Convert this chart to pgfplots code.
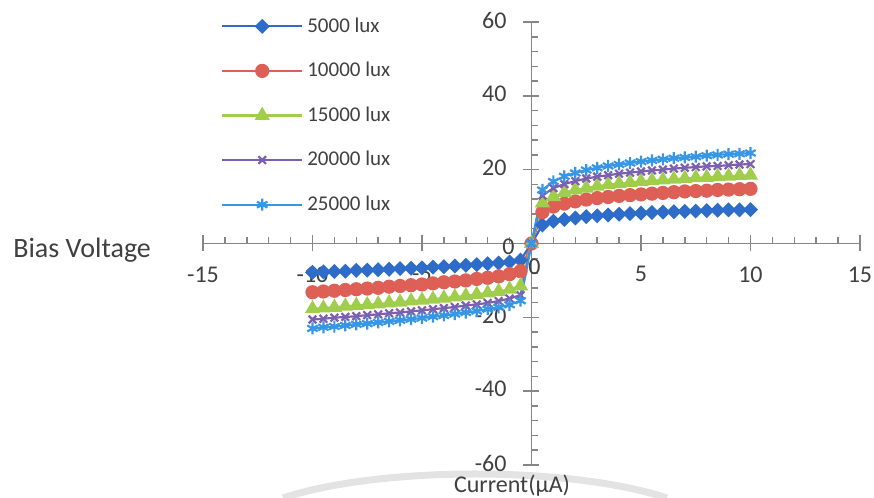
\documentclass[border=0pt]{standalone}
\usepackage{fontspec}
\setmainfont{Carlito}
\usepackage{pgfplots}
\usepackage{pgfplotstable}
\pgfplotsset{compat=1.18}

\definecolor{luxA}{RGB}{45,108,200}
\definecolor{luxB}{RGB}{222,95,85}
\definecolor{luxC}{RGB}{160,205,75}
\definecolor{luxD}{RGB}{125,95,175}
\definecolor{luxE}{RGB}{55,150,230}
\definecolor{axiscol}{RGB}{134,134,134}
\definecolor{labelcol}{RGB}{64,64,64}

% x = current, a..e = 5000..25000 lux
\pgfplotstableread{
x     a     b      c      d      e
-10   -7.8  -13.2  -17.7  -20.6  -23.0
-9.5  -7.7  -13.0  -17.5  -20.4  -22.7
-9    -7.6  -12.8  -17.3  -20.1  -22.5
-8.5  -7.5  -12.6  -17.0  -19.9  -22.2
-8    -7.3  -12.4  -16.8  -19.7  -21.9
-7.5  -7.2  -12.2  -16.6  -19.4  -21.7
-7    -7.1  -12.0  -16.4  -19.2  -21.4
-6.5  -7.0  -11.7  -16.1  -18.9  -21.1
-6    -6.8  -11.5  -15.9  -18.7  -20.8
-5.5  -6.7  -11.3  -15.6  -18.4  -20.5
-5    -6.6  -11.1  -15.4  -18.1  -20.2
-4.5  -6.4  -10.8  -15.1  -17.8  -19.8
-4    -6.3  -10.5  -14.8  -17.5  -19.5
-3.5  -6.1  -10.3  -14.5  -17.2  -19.1
-3    -5.9  -10.0  -14.2  -16.8  -18.7
-2.5  -5.7  -9.6   -13.8  -16.5  -18.3
-2    -5.5  -9.3   -13.4  -16.1  -17.8
-1.5  -5.3  -8.9   -13.0  -15.6  -17.3
-1    -5.0  -8.3   -12.4  -14.9  -16.6
-0.5  -4.5  -7.5   -11.5  -14.0  -15.5
0      0     0      0      0      0
0.5    5.0   8.5   11.0   13.0   14.5
1      6.0  10.0   12.7   15.0   16.8
1.5    6.5  10.8   13.8   16.1   18.2
2      6.9  11.4   14.5   16.9   19.1
2.5    7.3  11.9   15.0   17.6   19.9
3      7.5  12.3   15.5   18.1   20.5
3.5    7.7  12.6   15.9   18.5   21.0
4      7.9  12.9   16.2   18.9   21.4
4.5    8.1  13.1   16.5   19.2   21.8
5      8.2  13.3   16.8   19.5   22.2
5.5    8.4  13.5   17.0   19.8   22.5
6      8.5  13.7   17.2   20.0   22.8
6.5    8.6  13.9   17.4   20.3   23.1
7      8.7  14.1   17.6   20.5   23.3
7.5    8.8  14.2   17.8   20.7   23.5
8      8.9  14.3   17.9   20.9   23.8
8.5    9.0  14.5   18.1   21.0   24.0
9      9.1  14.6   18.2   21.2   24.2
9.5    9.1  14.7   18.4   21.4   24.3
10     9.2  14.8   18.5   21.5   24.5
}\luxdata

\begin{document}
\begin{tikzpicture}
% faint watermark arc behind the chart
\draw[gray!22, line width=3.5pt] (40pt,-16.5pt) .. controls (88.5pt,-0.5pt) and (183.5pt,-0.5pt) .. (232pt,-16.5pt);

\begin{axis}[
  at={(0,0)}, anchor=south west,
  scale only axis, width=328.5pt, height=221.5pt,
  xmin=-15, xmax=15, ymin=-60, ymax=60,
  axis lines=middle,
  axis line style={axiscol, line width=0.75pt, -},
  xtick={-15,-10,...,15}, ytick={-60,-40,...,60},
  minor x tick num=4, minor y tick num=4,
  tick align=center,
  major tick length=8pt, minor tick length=3.3pt,
  tick style={axiscol, line width=0.75pt},
  minor x tick style={yshift=1.65pt},
  minor y tick style={xshift=1.65pt},
  /pgf/number format/assume math mode=true,
  tick label style={font=\fontsize{12}{14}\selectfont, text=labelcol},
  x tick label style={yshift=-4pt},
  y tick label style={xshift=-5pt, yshift=1pt},
  xlabel={Bias Voltage},
  ylabel={Current(μA)},
  every axis x label/.style={at={(axis description cs:-0.0685,0.4853)}, anchor=east,
    font=\fontsize{14}{16}\selectfont, text=labelcol},
  every axis y label/.style={at={(axis description cs:0.4703,-0.061)}, anchor=base,
    font=\fontsize{12}{14}\selectfont, text=labelcol},
  legend style={draw=none, fill=none, at={(axis description cs:0.027,1.02)},
    anchor=north west, font=\fontsize{10.5}{12}\selectfont, text=labelcol,
    row sep=9.5pt, inner sep=0pt},
  legend cell align=left,
  legend image code/.code={
    \draw[mark repeat=2,mark phase=2,#1] plot coordinates {(0pt,0pt) (20pt,0pt) (40pt,0pt)};},
  every axis plot/.append style={line width=1.1pt},
]
\addplot[luxA, mark=square*, mark size=2.1pt, mark options={rotate=45}] table[x=x, y=a]{\luxdata};
\addlegendentry{5000 lux}
\addplot[luxB, mark=*, mark size=3pt] table[x=x, y=b]{\luxdata};
\addlegendentry{10000 lux}
\addplot[luxC, mark=triangle*, mark size=3.3pt] table[x=x, y=c]{\luxdata};
\addlegendentry{15000 lux}
\addplot[luxD, mark=x, mark size=2.7pt] table[x=x, y=d]{\luxdata};
\addlegendentry{20000 lux}
\addplot[luxE, mark=asterisk, mark size=3pt] table[x=x, y=e]{\luxdata};
\addlegendentry{25000 lux}
% zero tick labels, which axis lines=middle leaves out
\node[anchor=north, yshift=-4pt, xshift=1.5pt, font=\fontsize{12}{14}\selectfont, text=labelcol] at (axis cs:0,0) {0};
\node[anchor=east, xshift=-5pt, yshift=-1.5pt, font=\fontsize{12}{14}\selectfont, text=labelcol] at (axis cs:0,0) {0};
\end{axis}
\pgfresetboundingbox
\path (-101.5pt,-16.5pt) rectangle (335.5pt,232.5pt);
\end{tikzpicture}
\end{document}
